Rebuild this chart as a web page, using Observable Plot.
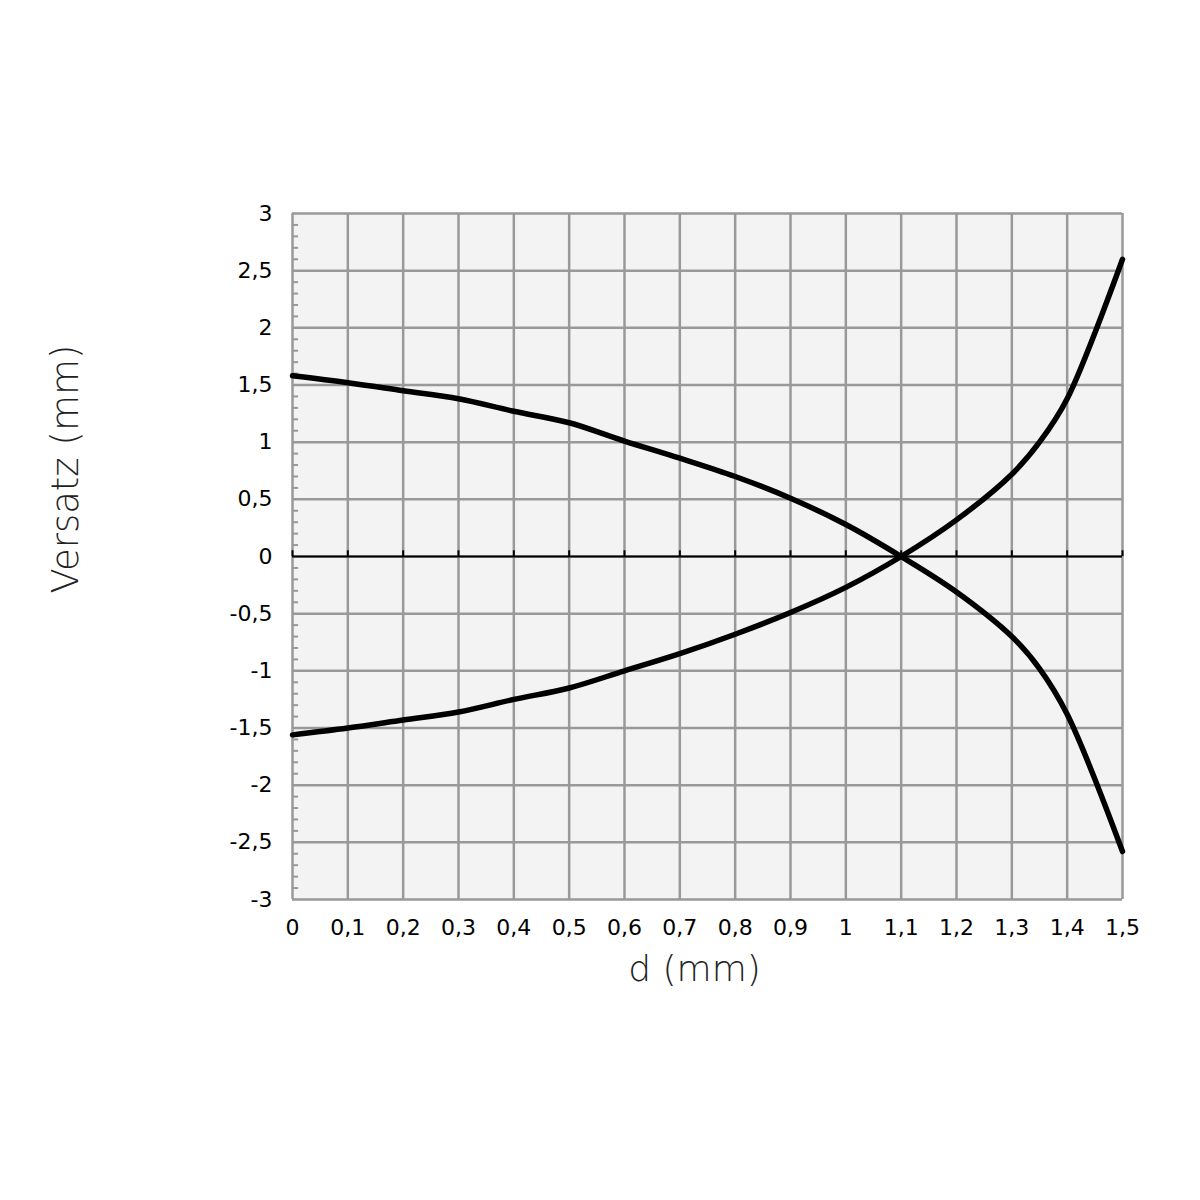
<!DOCTYPE html>
<html>
<head>
<meta charset="utf-8">
<script src="https://cdn.jsdelivr.net/npm/d3@7"></script>
<script src="https://cdn.jsdelivr.net/npm/@observablehq/plot@0.6"></script>
<style>
  html, body { margin: 0; padding: 0; background: #fff; }
  #chart { width: 1200px; height: 1200px; }
</style>
</head>
<body>
<div id="chart"></div>
<script>
const dValues = [0, 0.1, 0.2, 0.3, 0.4, 0.5, 0.6, 0.7, 0.8, 0.9, 1.0, 1.1, 1.2, 1.3, 1.35, 1.4, 1.5];
const upperCurve = [1.58, 1.52, 1.45, 1.38, 1.27, 1.17, 1.01, 0.86, 0.70, 0.51, 0.28, 0.0, -0.31, -0.70, -0.98, -1.38, -2.58];
const lowerCurve = [-1.56, -1.50, -1.43, -1.36, -1.25, -1.15, -1.00, -0.85, -0.68, -0.49, -0.27, 0.0, 0.32, 0.72, 1.0, 1.38, 2.60];
const xTicks = [0, 0.1, 0.2, 0.3, 0.4, 0.5, 0.6, 0.7, 0.8, 0.9, 1, 1.1, 1.2, 1.3, 1.4, 1.5];
const yTicks = [3, 2.5, 2, 1.5, 1, 0.5, 0, -0.5, -1, -1.5, -2, -2.5, -3];
const yMinorTicks = d3.range(-29, 30).map(i => i / 10).filter(v => Math.abs(Math.round(v * 10) % 5) !== 0);

const fmt = d => String(Math.round(d * 10) / 10).replace(".", ",");

const upper = dValues.map((d, i) => ({d, v: upperCurve[i]}));
const lower = dValues.map((d, i) => ({d, v: lowerCurve[i]}));

const gridColor = "#999999";

const chart = Plot.plot({
  width: 1200,
  height: 1200,
  marginLeft: 292,
  marginRight: 78,
  marginTop: 213,
  marginBottom: 301,
  style: {fontFamily: "'DejaVu Sans', 'Liberation Sans', Arial, sans-serif", fontSize: "22px", background: "#fff", color: "#000"},
  x: {domain: [0, 1.5]},
  y: {domain: [-3, 3]},
  marks: [
    Plot.frame({fill: "#f3f3f3", stroke: null}),
    Plot.ruleX(xTicks, {stroke: gridColor, strokeWidth: 2.5}),
    Plot.ruleY(yTicks, {stroke: gridColor, strokeWidth: 2.5}),
    Plot.ruleY(yMinorTicks, {y: d => d, x1: 0, x2: 0.011, stroke: gridColor, strokeWidth: 2}),
    Plot.ruleY([0], {stroke: "#000", strokeWidth: 2}),
    Plot.ruleX(xTicks, {x: d => d, y1: 0, y2: 0.05, stroke: "#000", strokeWidth: 2}),
    Plot.axisX({ticks: xTicks, tickFormat: fmt, tickSize: 0, tickPadding: 20, fontSize: 22, label: null}),
    Plot.axisY({ticks: yTicks, tickFormat: fmt, tickSize: 0, tickPadding: 20, fontSize: 22, label: null}),
    Plot.line(upper, {x: "d", y: "v", stroke: "#000", strokeWidth: 5.5, curve: "catmull-rom"}),
    Plot.line(lower, {x: "d", y: "v", stroke: "#000", strokeWidth: 5.5, curve: "catmull-rom"}),
    Plot.text(["d (mm)"], {frameAnchor: "bottom", dx: -13, dy: 81, fontSize: 36, fontWeight: 300, fill: "#222"}),
    Plot.text(["Versatz (mm)"], {frameAnchor: "left", textAnchor: "start", rotate: -90, dx: -226, dy: 37, fontSize: 37, fontWeight: 300, fill: "#222"})
  ]
});
document.getElementById("chart").appendChild(chart);
</script>
</body>
</html>
